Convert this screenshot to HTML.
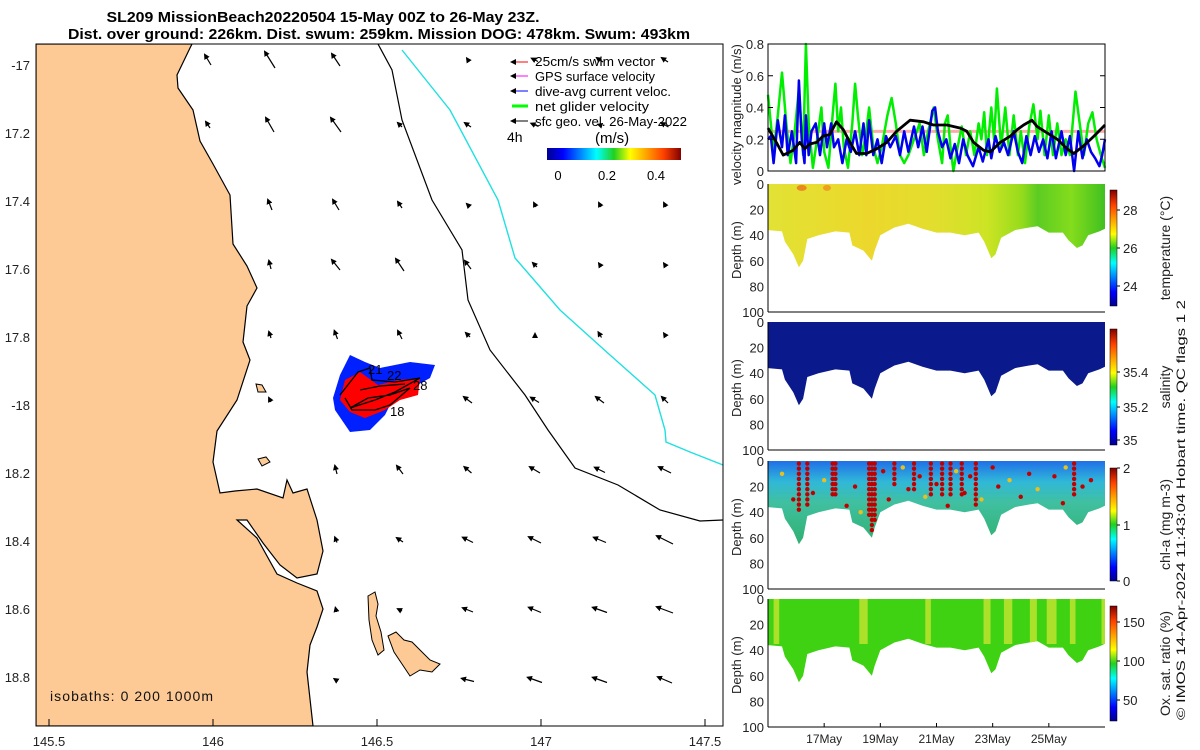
<!DOCTYPE html>
<html><head><meta charset="utf-8"><style>
html,body{margin:0;padding:0;background:#fff;}
svg{display:block;font-family:"Liberation Sans","DejaVu Sans",sans-serif;}
</style></head><body>
<svg id="fig" width="1200" height="750" viewBox="0 0 1200 750" xmlns="http://www.w3.org/2000/svg">
<defs>
<linearGradient id="jet" x1="0" x2="1" y1="0" y2="0">
<stop offset="0" stop-color="#00008f"/><stop offset="0.12" stop-color="#0000ff"/><stop offset="0.37" stop-color="#00ffff"/><stop offset="0.5" stop-color="#20d020"/><stop offset="0.62" stop-color="#ffff00"/><stop offset="0.87" stop-color="#ff4000"/><stop offset="1" stop-color="#800000"/></linearGradient>
<linearGradient id="jetv" x1="0" x2="0" y1="1" y2="0">
<stop offset="0" stop-color="#00008f"/><stop offset="0.12" stop-color="#0000ff"/><stop offset="0.37" stop-color="#00ffff"/><stop offset="0.5" stop-color="#20d020"/><stop offset="0.62" stop-color="#ffff00"/><stop offset="0.87" stop-color="#ff4000"/><stop offset="1" stop-color="#800000"/></linearGradient>
<linearGradient id="tempg" x1="0" x2="1" y1="0" y2="0">
<stop offset="0" stop-color="#e2e234"/><stop offset="0.3" stop-color="#ecd82c"/><stop offset="0.5" stop-color="#e2de2e"/><stop offset="0.65" stop-color="#cce424"/><stop offset="0.75" stop-color="#98dc1c"/><stop offset="0.8" stop-color="#5ccc22"/><stop offset="0.9" stop-color="#84dc1c"/><stop offset="1" stop-color="#40c020"/></linearGradient>
<linearGradient id="chlg" x1="0" x2="0" y1="0" y2="1">
<stop offset="0" stop-color="#2070e8"/><stop offset="0.25" stop-color="#30b8d8"/><stop offset="0.5" stop-color="#40c0a0"/><stop offset="1" stop-color="#30b070"/></linearGradient>
<marker id="ah" markerWidth="6" markerHeight="6" refX="4" refY="3" orient="auto" markerUnits="userSpaceOnUse"><path d="M0,0 L6,3 L0,6 z" fill="#000"/></marker>
<clipPath id="mapclip"><rect x="36" y="44" width="687" height="682"/></clipPath>
</defs>

<text x="323" y="22" font-size="15" font-weight="bold" text-anchor="middle" textLength="433" lengthAdjust="spacingAndGlyphs">SL209 MissionBeach20220504 15-May 00Z to 26-May 23Z.</text>
<text x="379" y="39" font-size="15" font-weight="bold" text-anchor="middle" textLength="622" lengthAdjust="spacingAndGlyphs">Dist. over ground: 226km. Dist. swum: 259km. Mission DOG: 478km. Swum: 493km</text>

<g id="map" clip-path="url(#mapclip)">
<path fill="#fdca96" stroke="#000" stroke-width="1.2" d="M36,44 L192,44 L190,48 L177,75 L178,88 L193,110 L200,141 L213,164 L230,195 L233,244 L247,266 L257,288 L247,306 L243,342 L250,360 L237,400 L217,431 L213,462 L220,493 L235,491 L257,489 L283,498 L287,480 L293,493 L307,489 L317,520 L323,551 L317,574 L297,578 L280,565 L263,543 L247,520 L237,520 L257,538 L277,574 L297,583 L317,591 L323,609 L317,627 L310,645 L307,672 L313,726 L36,726 Z"/>
<path fill="#fdca96" stroke="#000" d="M368,596 L375,592 L378,604 L376,616 L381,632 L384,650 L378,655 L372,640 L369,620 Z"/>
<path fill="#fdca96" stroke="#000" d="M388,636 L396,632 L404,640 L412,642 L420,650 L430,660 L440,664 L432,672 L420,670 L410,676 L402,664 L394,652 Z"/>
<path fill="#fdca96" stroke="#000" d="M258,459 L266,457 L270,462 L262,466 Z"/>
<path fill="#fdca96" stroke="#000" d="M256,384 L262,385 L266,392 L258,392 Z"/>
<path fill="none" stroke="#000" stroke-width="1.2" d="M378,44 L392,70 L402,120 L432,200 L462,250 L468,300 L490,350 L525,395 L548,430 L575,468 L618,485 L660,510 L700,521 L723,520"/>
<path fill="none" stroke="#20e0e0" stroke-width="1.4" d="M402,50 L450,110 L498,200 L515,258 L560,310 L610,355 L655,395 L665,430 L666,442 L690,452 L723,465"/>
<g id="arrows"></g>
<g>
<path fill="#0020ff" d="M340,375 L350,355 L365,362 L380,368 L410,362 L435,365 L430,378 L412,388 L395,395 L385,415 L370,430 L350,432 L335,410 L333,398 Z"/>
<path fill="#ff0000" d="M345,380 L360,372 L378,385 L398,380 L420,378 L418,395 L400,400 L385,410 L365,418 L350,412 L340,400 Z"/>
<path fill="none" stroke="#000" stroke-width="1.3" d="M340,395 L358,372 L370,368 L372,380 L395,382 L420,378 L395,392 L375,400 L350,408 L368,398 L390,395 L410,388 L390,405 L375,410 L352,410 L345,398 M360,390 L380,386 L405,384"/>
<text x="368" y="374" font-size="13">21</text>
<text x="387" y="380" font-size="13">22</text>
<text x="413" y="390" font-size="13">28</text>
<text x="390" y="416" font-size="13">18</text>
</g>
</g>
<rect x="36" y="44" width="687" height="682" fill="none" stroke="#000" stroke-width="1"/>
<g id="mapticks" font-size="13" fill="#222"></g>
<text x="50" y="701" font-size="14" fill="#111" textLength="163" lengthAdjust="spacing">isobaths: 0   200  1000m</text>

<g font-size="13">
<line x1="528" y1="62" x2="512" y2="62" stroke="#f00" marker-end="url(#ah)"/><text x="535" y="66" textLength="120" lengthAdjust="spacingAndGlyphs">25cm/s swim vector</text>
<line x1="528" y1="76" x2="512" y2="76" stroke="#f0f" marker-end="url(#ah)"/><text x="535" y="81" textLength="120" lengthAdjust="spacingAndGlyphs">GPS surface velocity</text>
<line x1="528" y1="91" x2="512" y2="91" stroke="#00f" marker-end="url(#ah)"/><text x="535" y="96" textLength="136" lengthAdjust="spacingAndGlyphs">dive-avg current veloc.</text>
<line x1="528" y1="106" x2="512" y2="106" stroke="#0f0" stroke-width="3" /><text x="535" y="111" textLength="114" lengthAdjust="spacingAndGlyphs">net glider velocity</text>
<line x1="528" y1="121" x2="512" y2="121" stroke="#000" marker-end="url(#ah)"/><text x="535" y="126" textLength="152" lengthAdjust="spacingAndGlyphs">sfc geo. vel. 26-May-2022</text>
<text x="507" y="142" font-size="14">4h</text>
<text x="595" y="143" font-size="15">(m/s)</text>
<rect x="547" y="148" width="134" height="12" fill="url(#jet)"/>
<text x="558" y="180" font-size="13" text-anchor="middle">0</text>
<text x="607" y="180" font-size="13" text-anchor="middle">0.2</text>
<text x="656" y="180" font-size="13" text-anchor="middle">0.4</text>
</g>

<g id="vel"></g>
<g id="sections"></g>

<text transform="translate(1185,720) rotate(-90)" font-size="12" fill="#111" textLength="420" lengthAdjust="spacingAndGlyphs">© IMOS 14-Apr-2024 11:43:04 Hobart time. QC flags 1  2</text>
</svg>
<script>
const NS="http://www.w3.org/2000/svg";
function mk(tag,attrs,parent){const e=document.createElementNS(NS,tag);for(const k in attrs)e.setAttribute(k,attrs[k]);parent.appendChild(e);return e;}

// ---------- map data ----------
const lonTicks=[145.5,146,146.5,147,147.5];
const latTicks=[-17,-17.2,-17.4,-17.6,-17.8,-18,-18.2,-18.4,-18.6,-18.8];
const latLabels=["-17","17.2","17.4","17.6","17.8","-18","18.2","18.4","18.6","18.8"];
const arrowLon=[208,270,336,400,468,535,600,665];
const arrowRows=[60,125,205,265,335,400,470,540,610,680];
const arrowU=[
[-6,-10,-8,0,-2,-6,-6,-6],[-4,-8,-10,-4,-6,-7,-3,-7],[0,-4,-6,-4,-2,-2,-2,-2],[0,-2,-8,-8,-6,-4,-2,-2],[0,-2,-3,-4,-4,0,-3,-2],
[0,-2,0,0,-8,-8,-8,-6],[0,0,-2,-6,-7,-10,-10,-12],[0,0,-2,-6,-10,-12,-12,-16],[0,0,-1,-4,-10,-12,-14,-16],[0,0,-3,0,-12,-14,-14,-14]];
const arrowV=[
[-10,-16,-12,0,-3,-3,-4,-4],[-6,-14,-14,-4,-4,-3,-1,-4],[0,-10,-10,-6,-2,-4,-4,-4],[0,-8,-10,-12,-8,-4,-3,-3],[0,-6,-8,-8,-4,-2,-5,-3],
[0,-4,0,0,-6,-5,-6,-6],[0,0,-8,-8,-6,-6,-5,-6],[0,0,-5,-4,-5,-6,-5,-8],[0,0,-4,-2,-4,-5,-5,-6],[0,0,-2,0,-3,-5,-5,-6]];
const lonX=v=>377+(v-146.5)*328;
const latY=v=>405+(-18-v)*340;

const mt=document.getElementById('mapticks');
lonTicks.forEach(v=>{const x=lonX(v);
 const t=mk('line',{x1:x,y1:726,x2:x,y2:719,stroke:'#000'},mt);
 
 
 const l=mk('text',{x:x,y:746,'text-anchor':'middle'},mt);l.textContent=v;
 
 
});
latTicks.forEach((v,i)=>{const y=latY(v);
 const l=mk('text',{x:30,y:y+5,'text-anchor':'end'},mt);l.textContent=latLabels[i];
 
 
});
const ag=document.getElementById('arrows');
arrowRows.forEach((cy,r)=>arrowLon.forEach((cx,c)=>{
 const dx=arrowU[r][c],dy=arrowV[r][c]; if(dx===0&&dy===0)return;
 const a=mk('line',{x1:cx-dx/2,y1:cy-dy/2,x2:cx+dx/2,y2:cy+dy/2,stroke:'#000','stroke-width':1.2,'marker-end':'url(#ah)'},ag);
 
 
}));

// ---------- velocity data ----------
const greenT=[0,0.1,0.2,0.35,0.5,0.65,0.8,0.95,1.1,1.25,1.35,1.45,1.6,1.75,1.9,2.0,2.15,2.3,2.4,2.5,2.6,2.7,2.85,3.0,3.1,3.2,3.35,3.5,3.6,3.75,3.9,4.05,4.25,4.4,4.55,4.7,4.85,5.0,5.2,5.4,5.55,5.7,5.9,6.05,6.2,6.3,6.4,6.5,6.6,6.75,6.9,7.05,7.2,7.35,7.5,7.6,7.7,7.8,7.95,8.05,8.15,8.3,8.45,8.6,8.75,8.9,9.0,9.15,9.3,9.45,9.6,9.7,9.85,10.0,10.15,10.3,10.45,10.6,10.75,10.85,10.95,11.1,11.25,11.4,11.55,11.7,11.85,12.0];
const greenV=[0.48,0.3,0.12,0.35,0.62,0.3,0.05,0.25,0.52,0.1,0.8,0.3,0.02,0.2,0.4,0.12,0.02,0.35,0.55,0.25,0.4,0.15,0.02,0.3,0.55,0.35,0.1,0.25,0.4,0.15,0.05,0.15,0.35,0.46,0.3,0.1,0.05,0.1,0.2,0.3,0.1,0.25,0.4,0.2,0.05,0.3,0.35,0.15,0.0,0.15,0.28,0.1,0.25,0.1,0.3,0.2,0.37,0.1,0.4,0.2,0.52,0.15,0.4,0.1,0.35,0.1,0.25,0.05,0.28,0.42,0.2,0.38,0.1,0.35,0.1,0.3,0.1,0.2,0.1,0.3,0.5,0.3,0.1,0.3,0.37,0.2,0.1,0.02];
const blueT=[0,0.1,0.2,0.35,0.5,0.6,0.7,0.85,1.0,1.1,1.2,1.3,1.35,1.45,1.55,1.7,1.85,2.0,2.1,2.25,2.35,2.5,2.65,2.8,2.95,3.1,3.25,3.4,3.5,3.6,3.75,3.9,4.05,4.2,4.35,4.55,4.7,4.85,5.0,5.2,5.35,5.5,5.65,5.85,5.95,6.05,6.2,6.35,6.5,6.65,6.8,6.95,7.1,7.3,7.5,7.65,7.85,7.95,8.1,8.25,8.4,8.55,8.75,8.9,9.05,9.2,9.35,9.5,9.65,9.8,9.95,10.1,10.25,10.45,10.6,10.75,10.9,11.05,11.2,11.35,11.5,11.65,11.8,11.9,12.0];
const blueV=[0.2,0.22,0.05,0.32,0.15,0.35,0.1,0.25,0.05,0.57,0.2,0.05,0.35,0.1,0.25,0.3,0.1,0.3,0.15,0.3,0.15,0.2,0.05,0.2,0.12,0.25,0.1,0.3,0.1,0.32,0.1,0.2,0.05,0.22,0.15,0.22,0.1,0.25,0.12,0.28,0.15,0.28,0.12,0.38,0.4,0.25,0.15,0.2,0.08,0.17,0.05,0.2,0.1,0.03,0.15,0.06,0.2,0.08,0.22,0.12,0.18,0.1,0.25,0.12,0.05,0.22,0.1,0.22,0.12,0.2,0.08,0.25,0.08,0.25,0.1,0.22,0.0,0.25,0.08,0.2,0.12,0.08,0.03,0.1,0.2];
const blackT=[0,0.3,0.54,0.89,1.13,1.31,1.49,1.73,1.96,2.2,2.44,2.68,2.92,3.15,3.51,3.87,4.23,4.58,5.06,5.54,5.89,6.37,6.85,7.08,7.32,7.68,7.92,8.27,8.63,8.87,9.1,9.4,9.58,9.94,10.3,10.65,10.89,11.25,11.61,12.0];
const blackV=[0.27,0.18,0.1,0.13,0.18,0.14,0.17,0.18,0.22,0.23,0.31,0.26,0.18,0.11,0.11,0.14,0.18,0.25,0.32,0.31,0.29,0.29,0.27,0.25,0.18,0.13,0.12,0.18,0.22,0.26,0.29,0.32,0.28,0.24,0.2,0.14,0.11,0.16,0.22,0.29];
const velTicks=[0,0.2,0.4,0.6,0.8];
const dayTicks=[2,4,6,8,10];
const dayLabels=["17May","19May","21May","23May","25May"];

const X0=768,X1=1105;
const tX=d=>X0+d*(X1-X0)/12;
const vel=document.getElementById('vel');
const vY=v=>171-v*(171-44)/0.8;
mk('line',{x1:X0,y1:vY(0.25),x2:X1,y2:vY(0.25),stroke:'#ffaaaa','stroke-width':3},vel);
function series(T,V,color,w,name){
 const d=T.map((t,i)=>(i?'L':'M')+tX(t).toFixed(1)+','+vY(V[i]).toFixed(1)).join(' ');
 const p=mk('path',{d:d,fill:'none',stroke:color,'stroke-width':w,'stroke-linejoin':'round'},vel);
 
 
}
series(greenT,greenV,'#00ee00',2.5,'net-glider-velocity-line');
series(blueT,blueV,'#0000ee',2.5,'dive-avg-current-line');
series(blackT,blackV,'#000',2.8,'surface-geo-velocity-line');
mk('rect',{x:X0,y:44,width:X1-X0,height:127,fill:'none',stroke:'#000'},vel);
velTicks.forEach(v=>{const y=vY(v);
 mk('line',{x1:X0,y1:y,x2:X0+5,y2:y,stroke:'#000'},vel);
 mk('line',{x1:X1,y1:y,x2:X1-5,y2:y,stroke:'#000'},vel);
 const t=mk('text',{x:X0-4,y:y+5,'text-anchor':'end','font-size':13,fill:'#222'},vel);t.textContent=v;
 
 
});
const vl=mk('text',{transform:'translate(741,185) rotate(-90)','font-size':13,fill:'#222'},vel);vl.textContent='velocity magnitude (m/s)';



// ---------- section data ----------
const bottomT=[0,0.5,0.6,0.9,1.1,1.25,1.4,1.8,2.2,2.4,2.9,3.0,3.4,3.7,3.8,4.0,4.5,5.0,5.5,6.0,6.5,7.0,7.5,7.7,7.95,8.1,8.3,8.8,9.3,9.6,10.0,10.5,10.7,11.0,11.2,11.4,11.8,12.0];
const bottomD=[36,37,45,55,65,60,43,40,38,37,38,48,52,60,52,40,34,31,35,38,38,40,38,45,58,55,42,36,34,33,38,38,44,50,48,40,37,35];
const chlColT=[1.1,1.4,2.3,2.4,3.7,3.8,3.6,4.5,5.2,5.8,6.2,6.5,6.9,7.4,10.9];
const chlColD=[42,38,30,30,58,50,45,20,25,30,30,30,30,35,30];
const chlDotT=[0.5,0.9,1.6,2.0,2.8,3.1,3.3,4.1,4.3,4.8,5.0,5.4,5.6,6.0,6.4,6.7,7.0,7.2,7.6,8.0,8.2,8.6,9.0,9.3,9.6,10.2,10.5,10.6,11.2,11.5];
const chlDotD=[10,30,25,15,35,20,40,8,30,5,22,12,28,18,35,8,25,12,30,5,20,15,28,10,22,12,33,5,20,15];
const oxStripeT=[0.3,3.4,5.7,7.8,8.55,9.45,10.1,10.85,11.95];
const oxStripeW=[0.2,0.3,0.2,0.25,0.3,0.25,0.35,0.2,0.15];

const panels=[
 {top:184,name:'temperature',cb:[190,306],ticks:[[24,286],[26,248],[28,210]],label:'temperature (°C)',fill:'url(#tempg)'},
 {top:322,name:'salinity',cb:[329,445],ticks:[[35,440],[35.2,407],[35.4,372]],label:'salinity',fill:'#0a1a8c'},
 {top:461,name:'chl-a',cb:[468,581],ticks:[[0,581],[1,525],[2,468]],label:'chl-a (mg m-3)',fill:'url(#chlg)'},
 {top:599,name:'oxygen',cb:[606,721],ticks:[[50,700],[100,661],[150,622]],label:'Ox. sat. ratio (%)',fill:'#3ed212'}];
const sec=document.getElementById('sections');
panels.forEach((p,pi)=>{
 const H=128;const dY=d=>p.top+d*H/100;
 const g=mk('g',{},sec);
 
 
 let d='M'+tX(0)+','+dY(0)+' '+bottomT.map((t,i)=>'L'+tX(t).toFixed(1)+','+dY(bottomD[i]).toFixed(1)).join(' ')+' L'+tX(12)+','+dY(0)+' Z';
 const s=mk('path',{d:d,fill:p.fill},g);
 
 
 const cid='clip'+pi;const cp=mk('clipPath',{id:cid},g);mk('path',{d:d},cp);
 if(p.name==='oxygen'){oxStripeT.forEach((t,i)=>{const r=mk('rect',{x:tX(t-oxStripeW[i]/2),y:dY(0),width:oxStripeW[i]*28,height:45,fill:'#c0e430','clip-path':'url(#'+cid+')',opacity:0.85},g);
  
  });}
 if(p.name==='chl-a'){
  chlDotT.forEach((t,i)=>{const c=mk('circle',{cx:tX(t),cy:dY(chlDotD[i]),r:2.2,fill:i%3?'#c00000':'#e8c020'},g);
   
   });
  chlColT.forEach((t,i)=>{for(let dd=2;dd<chlColD[i];dd+=4){const c=mk('circle',{cx:tX(t),cy:dY(dd),r:2.2,fill:'#c00000'},g);
  
  }});}
 if(p.name==='temperature'){mk('ellipse',{cx:tX(1.2),cy:dY(3),rx:5,ry:3,fill:'#e88a20'},g);mk('ellipse',{cx:tX(2.1),cy:dY(3),rx:4,ry:3,fill:'#f0a020'},g);}
 mk('line',{x1:X0,y1:dY(100),x2:X1,y2:dY(100),stroke:'#000'},g);
 mk('line',{x1:X0,y1:dY(0),x2:X0,y2:dY(100),stroke:'#000'},g);
 [0,20,40,60,80,100].forEach(v=>{const t=mk('text',{x:X0-4,y:dY(v)+5,'text-anchor':'end','font-size':13,fill:'#222'},g);t.textContent=v;
  
  });
 const yl=mk('text',{transform:'translate(741,'+(p.top+95)+') rotate(-90)','font-size':13,fill:'#222'},g);yl.textContent='Depth (m)';
 
 
 const cb=mk('rect',{x:1110,y:p.cb[0],width:7,height:p.cb[1]-p.cb[0],fill:'url(#jetv)',stroke:'#000','stroke-width':0.5},g);
 
 
 p.ticks.forEach(tk=>{mk('line',{x1:1117,y1:tk[1],x2:1120,y2:tk[1],stroke:'#000'},g);
  const t=mk('text',{x:1123,y:tk[1]+5,'font-size':13,fill:'#222'},g);t.textContent=tk[0];
  
  });
 const cl=mk('text',{transform:'translate(1170,'+((p.cb[0]+p.cb[1])/2)+') rotate(-90)','font-size':14,fill:'#222','text-anchor':'middle'},g);cl.textContent=p.label;
 
 
 if(pi===3){dayTicks.forEach((dd,i)=>{const x=tX(dd);mk('line',{x1:x,y1:dY(100),x2:x,y2:dY(100)-4,stroke:'#000'},g);
  const t=mk('text',{x:x,y:743,'text-anchor':'middle','font-size':12,fill:'#222'},g);t.textContent=dayLabels[i];
  
  });}
});
</script>
</body></html>
